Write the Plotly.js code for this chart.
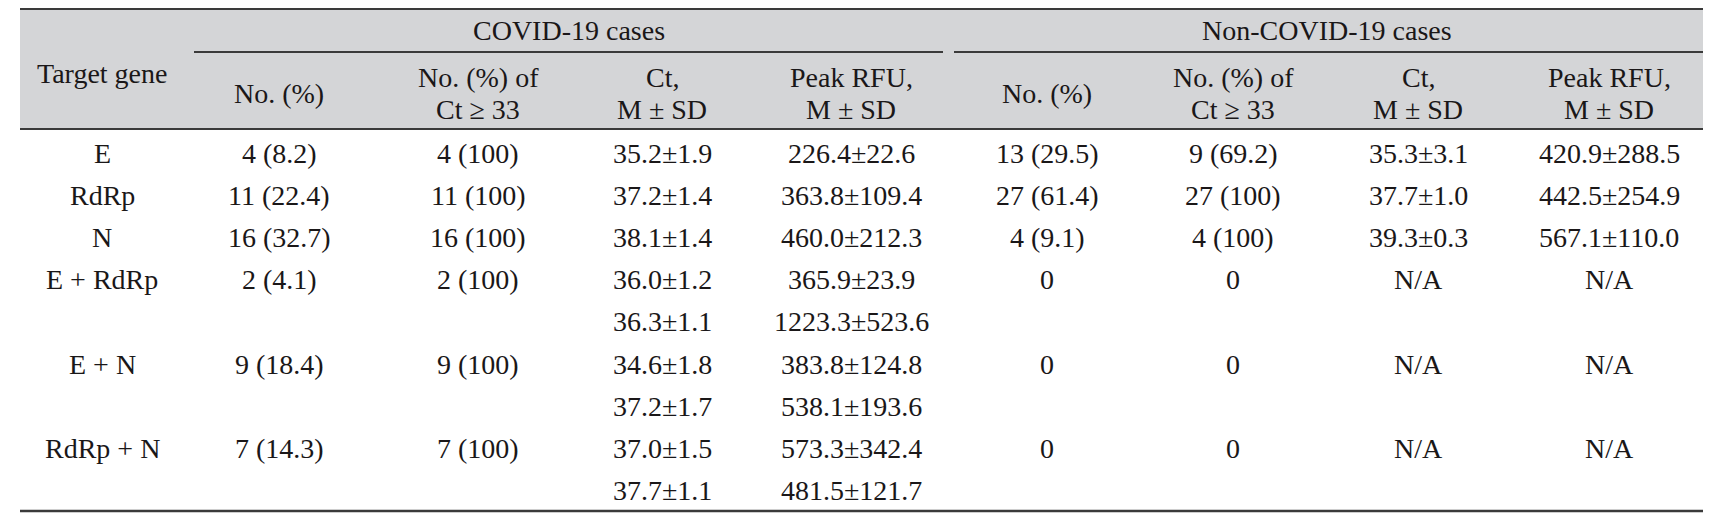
<!DOCTYPE html>
<html>
<head>
<meta charset="utf-8">
<script src="https://cdn.plot.ly/plotly-3.0.1.min.js"></script>
<style>html,body{margin:0;padding:0;background:#fff;}#chart{width:1716px;height:524px;}</style>
</head>
<body>
<div id="chart"></div>
<script>
// ---- Data ----
const groupTitles = ['COVID-19 cases', 'Non-COVID-19 cases'];
const columnHeaders = ['No. (%)', 'No. (%) of<br>Ct ≥ 33', 'Ct,<br>M ± SD', 'Peak RFU,<br>M ± SD'];
const firstHeader = 'Target gene';
const genes = ['E', 'RdRp', 'N', 'E + RdRp', 'E + N', 'RdRp + N'];
const covidNo = ['4 (8.2)', '11 (22.4)', '16 (32.7)', '2 (4.1)', '9 (18.4)', '7 (14.3)'];
const covidCt33 = ['4 (100)', '11 (100)', '16 (100)', '2 (100)', '9 (100)', '7 (100)'];
const covidCt = [['35.2±1.9'], ['37.2±1.4'], ['38.1±1.4'], ['36.0±1.2', '36.3±1.1'], ['34.6±1.8', '37.2±1.7'], ['37.0±1.5', '37.7±1.1']];
const covidRFU = [['226.4±22.6'], ['363.8±109.4'], ['460.0±212.3'], ['365.9±23.9', '1223.3±523.6'], ['383.8±124.8', '538.1±193.6'], ['573.3±342.4', '481.5±121.7']];
const nonNo = ['13 (29.5)', '27 (61.4)', '4 (9.1)', '0', '0', '0'];
const nonCt33 = ['9 (69.2)', '27 (100)', '4 (100)', '0', '0', '0'];
const nonCt = ['35.3±3.1', '37.7±1.0', '39.3±0.3', 'N/A', 'N/A', 'N/A'];
const nonRFU = ['420.9±288.5', '442.5±254.9', '567.1±110.0', 'N/A', 'N/A', 'N/A'];

// ---- Layout geometry (pixel-like data space) ----
const W = 1716, H = 524;
const left = 20, right = 1703;
const topY = 9, subY = 52, headBottom = 129, bottomY = 511;
const colX = [102, 279, 478, 662, 851, 1047, 1233, 1418, 1609];
const groupX = [569, 1327];
const firstRowY = 153, rowStep = 42.2;
const FONT = 'Liberation Serif, Times New Roman, serif';
const FS = 28;
const TXT = '#1a1718';

const ann = [];
function addText(x, y, t, size) {
  ann.push({x: x, y: y, xref: 'x', yref: 'y', text: t, showarrow: false,
    xanchor: 'center', yanchor: 'middle', font: {family: FONT, size: size || FS, color: TXT}});
}

// headers
addText(colX[0], 73, firstHeader);
addText(groupX[0], 30, groupTitles[0]);
addText(groupX[1], 30, groupTitles[1]);
for (let g = 0; g < 2; g++) {
  columnHeaders.forEach((h, i) => {
    const x = colX[1 + g * 4 + i];
    if (h.indexOf('<br>') >= 0) {
      const parts = h.split('<br>');
      addText(x, 77, parts[0]);
      addText(x, 109, parts[1]);
    } else {
      addText(x, 93, h);
    }
  });
}

// body
let slot = 0;
genes.forEach((g, i) => {
  const y = firstRowY + slot * rowStep;
  addText(colX[0], y, g);
  addText(colX[1], y, covidNo[i]);
  addText(colX[2], y, covidCt33[i]);
  covidCt[i].forEach((v, k) => addText(colX[3], y + k * rowStep, v));
  covidRFU[i].forEach((v, k) => addText(colX[4], y + k * rowStep, v));
  addText(colX[5], y, nonNo[i]);
  addText(colX[6], y, nonCt33[i]);
  addText(colX[7], y, nonCt[i]);
  addText(colX[8], y, nonRFU[i]);
  slot += covidCt[i].length;
});

const LC = '#3a3a3a';
const shapes = [
  {type: 'rect', xref: 'x', yref: 'y', x0: left, x1: right, y0: topY, y1: headBottom, fillcolor: '#d4d5d7', line: {width: 0}, layer: 'below'},
  {type: 'line', xref: 'x', yref: 'y', x0: left, x1: right, y0: topY, y1: topY, line: {color: LC, width: 2}},
  {type: 'line', xref: 'x', yref: 'y', x0: 194, x1: 943, y0: subY, y1: subY, line: {color: LC, width: 2}},
  {type: 'line', xref: 'x', yref: 'y', x0: 954, x1: right, y0: subY, y1: subY, line: {color: LC, width: 2}},
  {type: 'line', xref: 'x', yref: 'y', x0: left, x1: right, y0: headBottom, y1: headBottom, line: {color: LC, width: 2}},
  {type: 'line', xref: 'x', yref: 'y', x0: left, x1: right, y0: bottomY, y1: bottomY, line: {color: LC, width: 2.5}}
];

const layout = {
  width: W, height: H,
  margin: {l: 0, r: 0, t: 0, b: 0, pad: 0},
  paper_bgcolor: '#ffffff', plot_bgcolor: '#ffffff',
  xaxis: {range: [0, W], visible: false, fixedrange: true},
  yaxis: {range: [H, 0], visible: false, fixedrange: true},
  showlegend: false,
  annotations: ann,
  shapes: shapes
};

Plotly.newPlot('chart', [{x: [], y: [], type: 'scatter', mode: 'markers', hoverinfo: 'skip'}], layout, {displayModeBar: false, staticPlot: true});
</script>
</body>
</html>
